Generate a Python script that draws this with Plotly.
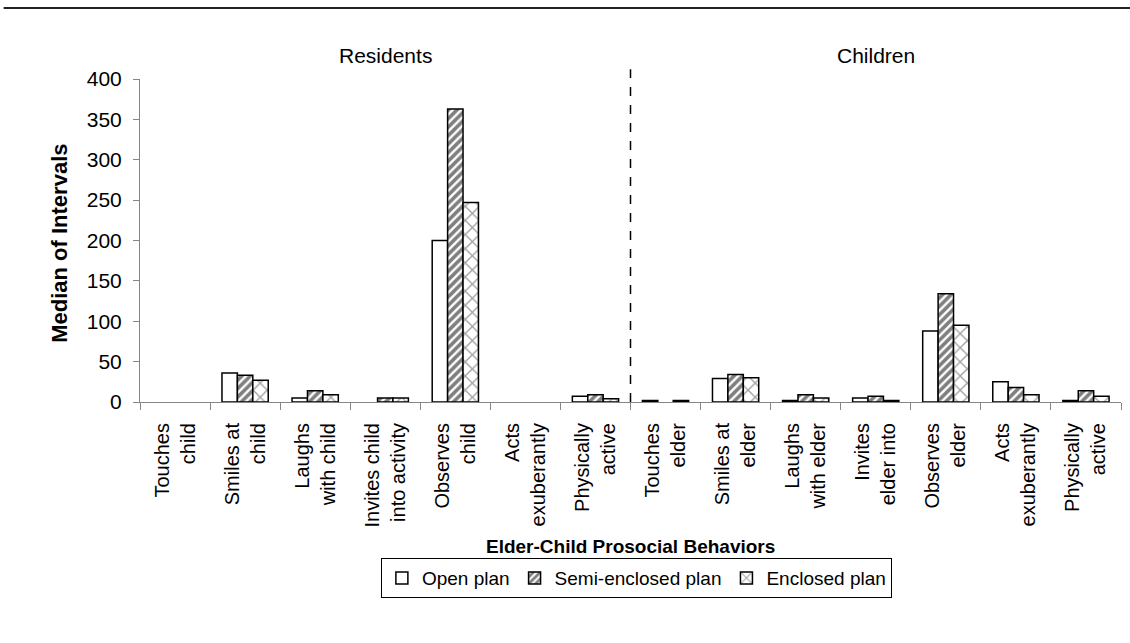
import plotly.graph_objects as go

# Behaviour categories (resident side, then child side)
categories = [
    "Touches<br>child", "Smiles at<br>child", "Laughs<br>with child",
    "Invites child<br>into activity", "Observes<br>child", "Acts<br>exuberantly",
    "Physically<br>active",
    "Touches<br>elder", "Smiles at<br>elder", "Laughs<br>with elder",
    "Invites<br>elder into", "Observes<br>elder", "Acts<br>exuberantly",
    "Physically<br>active",
]

open_plan = [0, 36, 5, 0, 200, 0, 7, 2, 29, 2, 5, 88, 25, 2]
semi_enclosed_plan = [0, 33, 14, 5, 363, 0, 9, 0, 34, 9, 7, 134, 18, 14]
enclosed_plan = [0, 27, 9, 5, 247, 0, 4, 2, 30, 5, 2, 95, 9, 7]

y_ticks = [0, 50, 100, 150, 200, 250, 300, 350, 400]

FONT = "Liberation Sans, Arial, sans-serif"
AXIS_GRAY = "#868686"

x_pos = list(range(len(categories)))


def nonzero(values):
    # a zero median draws no bar at all
    return [v if v > 0 else None for v in values]


BORDER = dict(color="black", width=1.5)

fig = go.Figure()
fig.add_trace(go.Bar(
    name="Open plan", x=x_pos, y=nonzero(open_plan),
    marker=dict(color="white", line=BORDER),
))
fig.add_trace(go.Bar(
    name="Semi-enclosed plan", x=x_pos, y=nonzero(semi_enclosed_plan),
    marker=dict(color="white", line=BORDER,
                pattern=dict(shape="/", fgcolor="black", size=6, solidity=0.6)),
))
fig.add_trace(go.Bar(
    name="Enclosed plan", x=x_pos, y=nonzero(enclosed_plan),
    marker=dict(color="white", line=BORDER,
                pattern=dict(shape="x", fgcolor="#444444", size=10, solidity=0.25)),
))

fig.update_layout(
    width=1130, height=643,
    margin=dict(l=140, r=9, t=79, b=241, autoexpand=False),
    paper_bgcolor="white", plot_bgcolor="white",
    font=dict(family=FONT, size=19, color="black"),
    barmode="group", bargap=0.34, bargroupgap=0,
    showlegend=True,
    legend=dict(
        orientation="h", x=0.506, y=-0.545, xanchor="center", yanchor="middle",
        bordercolor="black", borderwidth=1, bgcolor="white",
        font=dict(family=FONT, size=19), itemwidth=30,
        tracegroupgap=0,
    ),
    xaxis=dict(
        range=[-0.5, len(categories) - 0.5],
        tickmode="array", tickvals=x_pos, ticktext=categories,
        tickangle=-90, ticks="", ticklabelstandoff=12,
        tickfont=dict(family=FONT, size=20),
        showline=True, linecolor=AXIS_GRAY, linewidth=1,
        showgrid=False, zeroline=False, automargin=False,
        minor=dict(tickmode="array", tickvals=[i - 0.5 for i in range(len(categories) + 1)],
                   ticks="outside", ticklen=7, tickcolor=AXIS_GRAY, tickwidth=1),
    ),
    yaxis=dict(
        range=[0, 400], tickmode="array", tickvals=y_ticks,
        ticks="outside", ticklen=6, tickcolor=AXIS_GRAY, ticklabelstandoff=7,
        tickfont=dict(family=FONT, size=21),
        showline=True, linecolor=AXIS_GRAY, linewidth=1,
        showgrid=False, zeroline=False, automargin=False,
    ),
    shapes=[
        # divider between resident and child behaviours
        dict(type="line", xref="x", yref="paper", x0=6.5, x1=6.5, y0=0, y1=1.03,
             line=dict(color="black", width=1.5, dash="dash")),
        # rule across the top of the page
        dict(type="line", xref="paper", yref="paper", x0=-0.139, x1=1.01, y0=1.22, y1=1.22,
             line=dict(color="#222222", width=2)),
    ],
    annotations=[
        dict(text="Residents", x=3, y=1.074, xref="x", yref="paper",
             xanchor="center", yanchor="middle",
             showarrow=False, font=dict(family=FONT, size=21)),
        dict(text="Children", x=10, y=1.074, xref="x", yref="paper",
             xanchor="center", yanchor="middle",
             showarrow=False, font=dict(family=FONT, size=21)),
        dict(text="<b>Elder-Child Prosocial Behaviors</b>", x=0.5, y=-0.446,
             xref="paper", yref="paper", xanchor="center", yanchor="middle",
             showarrow=False, font=dict(family=FONT, size=19)),
        dict(text="<b>Median of Intervals</b>", x=-0.0815, y=0.49, textangle=-90,
             xref="paper", yref="paper", xanchor="center", yanchor="middle",
             showarrow=False, font=dict(family=FONT, size=22)),
    ],
)

fig.write_html("out.html")
